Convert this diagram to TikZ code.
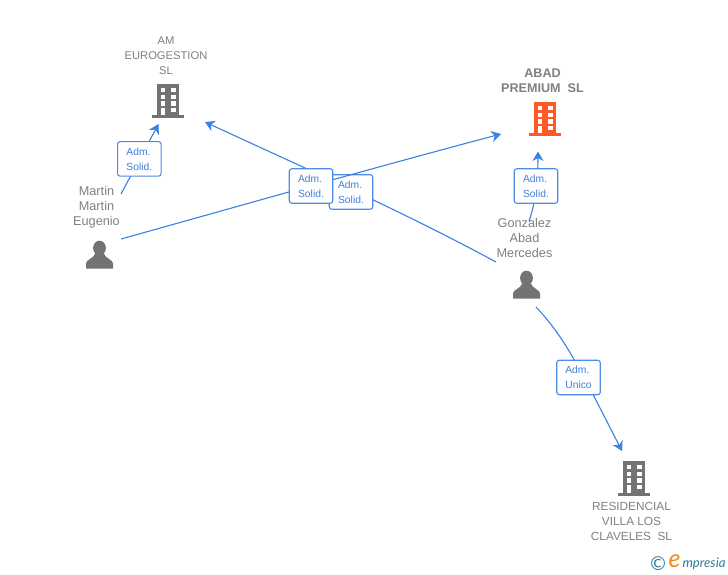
\documentclass[tikz,border=0pt]{standalone}
\usepackage{fontspec}
\setmainfont{Liberation Sans}
\newfontfamily\logofont{Lato}
\newfontfamily\symfont{DejaVu Sans}
\usetikzlibrary{arrows.meta}
\definecolor{linkblue}{HTML}{3B80E2}
\definecolor{boxblue}{HTML}{4A8CE8}
\definecolor{labelblue}{HTML}{3F7FD8}
\definecolor{icongray}{HTML}{737373}
\definecolor{textgray}{HTML}{808080}
\definecolor{hotorange}{HTML}{FF5A26}
\definecolor{logoteal}{HTML}{2F7F92}
\definecolor{logoorange}{HTML}{F58A1F}
\tikzset{
  link/.style={draw=linkblue,line width=1.1pt,-{Stealth[length=9.5pt,width=11pt,inset=3pt]}},
  rolebox/.style={draw=boxblue,line width=1.1pt,fill=white,rounded corners=2.5pt,minimum width=43.5pt,minimum height=34.5pt,inner sep=0pt,text=labelblue,align=left,font=\fontsize{10.3}{15}\selectfont},
  company/.style={text=textgray,align=center,inner sep=0pt,font=\fontsize{11.8}{14.8}\selectfont},
  companysmall/.style={text=textgray,align=center,inner sep=0pt,font=\fontsize{11.2}{14.8}\selectfont},
  persontext/.style={text=textgray,align=center,inner sep=0pt,font=\fontsize{12.7}{15}\selectfont},
  tower/.pic={
    \fill[pic actions] (-11,0) rectangle (11,31.5);
    \fill[pic actions] (-16,31.5) rectangle (16,34.5);
    \foreach \wx in {-7.5,2.6}{\foreach \wy in {4,10.7,17.4}{\fill[white] (\wx,\wy) rectangle +(4.9,4.3);}}
    \fill[white] (-7.5,24.1) rectangle +(4.9,7.4);
    \fill[white] (2.6,24.1) rectangle +(4.9,4.3);
  },
  figure/.pic={
    \fill[pic actions] (0,7) ellipse (6.4 and 7.3);
    \fill[pic actions] (-13.5,27.5) -- (-13.5,22.5) .. controls (-13.5,18.5) and (-6,18) .. (-4,12) -- (4,12) .. controls (6,18) and (13.5,18.5) .. (13.5,22.5) -- (13.5,27.5) -- cycle;
  }
}
\begin{document}
\begin{tikzpicture}[x=1pt,y=-1pt]
\useasboundingbox (0,0) rectangle (728,575);
\fill[white] (0,0) rectangle (728,575);

% icons
\pic[fill=icongray] at (168,84) {tower};
\pic[fill=hotorange] at (545,102) {tower};
\pic[fill=icongray] at (634,461) {tower};
\pic[fill=icongray] at (99.5,241) {figure};
\pic[fill=icongray] at (526.5,271) {figure};

% texts
\node[companysmall] (amname) at (166,55.5) {AM\\EUROGESTION\\SL};
\node[company,font=\bfseries\fontsize{12.6}{14.8}\selectfont] (abadname) at (542.5,80.5) {ABAD\\PREMIUM\ \ SL};
\node[company] (resname) at (631.5,521.5) {RESIDENCIAL\\VILLA LOS\\CLAVELES\ \ SL};
\node[persontext] (martinname) at (96.5,207) {Martin\\Martin\\Eugenio};
\node[persontext] (gonzname) at (524.5,238) {Gonzalez\\Abad\\Mercedes};

% free ends of the connectors
\coordinate (mA) at (121,194);
\coordinate (amA) at (158.5,124);
\coordinate (mB) at (121,239);
\coordinate (abadA) at (501,134);
\coordinate (gA) at (496,262);
\coordinate (amB) at (205,122);
\coordinate (gB) at (529,221);
\coordinate (abadB) at (538,151.5);
\coordinate (gC) at (536,307);
\coordinate (resA) at (622,451);

% connectors
\draw[link] (mA) -- (amA);
\draw[link] (gA) .. controls (400,210) and (300,166) .. (amB);
\draw[link] (gB) .. controls (535,205) and (538,180) .. (abadB);
\draw[link] (gC) .. controls (565,338) and (578,365) .. (resA);

% boxes
\node[rolebox] (box1) at (139.3,158.9) {Adm.\\Solid.};
\node[rolebox] (box2) at (536,186) {Adm.\\Solid.};
\node[rolebox] (box4) at (351,192) {Adm.\\Solid.};
\draw[link] (mB) .. controls (250,203) and (380,166) .. (abadA);
\node[rolebox] (box3) at (311,186) {Adm.\\Solid.};
\node[rolebox] (box5) at (578.5,377.5) {Adm.\\Unico};

% logo
\node[inner sep=0pt,text=logoteal,font=\symfont\fontsize{19}{19}\selectfont] (logoc) at (658,564) {©};
\node[inner sep=0pt,text=logoorange,font=\logofont\itshape\fontsize{25}{25}\selectfont] (logoe) at (674.5,561.5) {e};
\node[inner sep=0pt,text=logoteal,font=\logofont\itshape\fontsize{13.2}{13.2}\selectfont] (logot) at (704,564) {mpresia};
\end{tikzpicture}
\end{document}
